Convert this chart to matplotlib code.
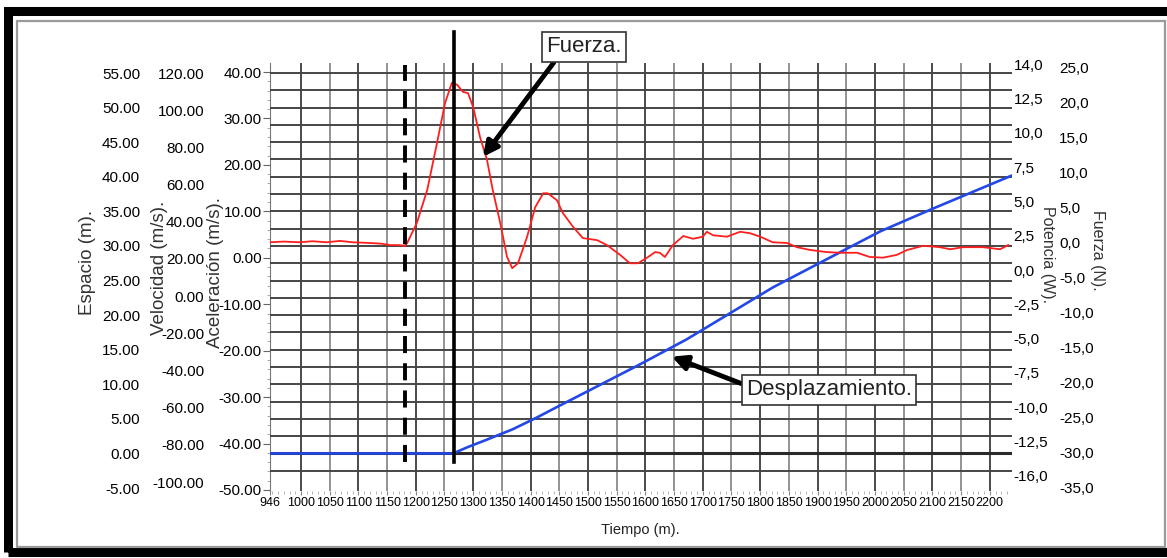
import numpy as np
import matplotlib.pyplot as plt
from matplotlib.patches import Rectangle

plt.rcParams['font.family'] = ['Liberation Sans', 'DejaVu Sans']

W, H = 1167, 558  # tamaño en pixeles

# eje de tiempo
tiempo_ticks = [946, 1000, 1050, 1100, 1150, 1200, 1250, 1300, 1350, 1400, 1450, 1500, 1550,
                1600, 1650, 1700, 1750, 1800, 1850, 1900, 1950, 2000, 2050, 2100, 2150, 2200]

# escalas de los ejes
espacio_ticks = [55, 50, 45, 40, 35, 30, 25, 20, 15, 10, 5, 0, -5]
velocidad_ticks = [120, 100, 80, 60, 40, 20, 0, -20, -40, -60, -80, -100]
acel_ticks = [40, 30, 20, 10, 0, -10, -20, -30, -40, -50]
potencia_ticks = [15, 12.5, 10, 7.5, 5, 2.5, 0, -2.5, -5, -7.5, -10, -12.5, -15]
potencia_labels = ['14,0', '12,5', '10,0', '7,5', '5,0', '2,5', '0,0', '-2,5', '-5,0',
                   '-7,5', '-10,0', '-12,5', '-16,0']
fuerza_ticks = [25, 20, 15, 10, 5, 0, -5, -10, -15, -20, -25, -30, -35]

# fuerza (N) vs tiempo
fuerza_t = [946, 970, 998, 1020, 1045, 1068, 1090, 1120, 1140, 1155,
            1170, 1181, 1185, 1202, 1220, 1237, 1251, 1263, 1272, 1282,
            1291, 1300, 1312, 1324, 1334, 1347, 1359, 1368, 1378, 1394,
            1408, 1422, 1430, 1446, 1456, 1474, 1491, 1516, 1533, 1556,
            1573, 1587, 1603, 1617, 1625, 1634, 1648, 1666, 1683, 1700,
            1707, 1718, 1742, 1765, 1782, 1800, 1822, 1847, 1864, 1887,
            1916, 1939, 1969, 1991, 2014, 2038, 2056, 2084, 2113, 2131,
            2153, 2188, 2218, 2232]
fuerza_n = [0.1, 0.2, 0.1, 0.25, 0.1, 0.3, 0.1, 0.0, -0.1, -0.3,
            -0.3, -0.4, 0.0, 2.9, 7.6, 14.3, 20.0, 22.9, 22.6, 21.6,
            21.4, 19.4, 15.1, 11.9, 7.6, 2.9, -2.0, -3.6, -2.9, 0.9,
            5.1, 7.1, 7.1, 6.1, 4.3, 2.3, 0.7, 0.4, -0.3, -1.7,
            -2.9, -2.9, -2.1, -1.3, -1.4, -2.0, -0.3, 1.0, 0.6, 0.9,
            1.6, 1.1, 0.9, 1.6, 1.4, 0.9, 0.1, 0.0, -0.6, -1.0,
            -1.3, -1.4, -1.4, -2.0, -2.1, -1.7, -1.0, -0.4, -0.6, -0.9,
            -0.6, -0.6, -0.9, -0.3]

# desplazamiento (m) vs tiempo
desp_t = [946, 1180, 1265, 1290, 1324, 1369, 1411, 1448, 1591, 1672, 1822, 1951, 2009, 2101, 2213, 2239]
desp_m = [0, 0, 0, 0.9, 2.0, 3.5, 5.2, 6.8, 12.9, 16.5, 24.0, 29.6, 32.1, 35.4, 39.3, 40.2]

t_inicio = 1181   # linea discontinua
t_impacto = 1267  # linea continua


def fx(px):
    return px / W


def fy(py):
    return 1 - py / H


fig = plt.figure(figsize=(W / 100, H / 100), dpi=100)

# eje principal = aceleracion
ax = fig.add_axes([fx(270), fy(491), 742 / W, 428 / H])
ax.set_xlim(946, 2238.7)
ax.set_ylim(-50.22, 41.94)

ax_vel = ax.twinx()
ax_esp = ax.twinx()
ax_pot = ax.twinx()
ax_fue = ax.twinx()
ax_vel.set_ylim(-104.8, 125.4)
ax_esp.set_ylim(-5.43, 56.45)
ax_pot.set_ylim(-16.11, 15.09)
ax_fue.set_ylim(-35.43, 25.71)

for a in [ax_vel, ax_esp, ax_pot, ax_fue]:
    for s in a.spines.values():
        s.set_visible(False)
for s in ['top', 'right', 'bottom']:
    ax.spines[s].set_visible(False)
ax.spines['left'].set_color('#777777')

# ticks izquierda
ax.set_yticks(acel_ticks, [f'{v:.2f}' for v in acel_ticks])
ax.yaxis.set_minor_locator(plt.MultipleLocator(2))
ax.tick_params(axis='y', which='major', length=5, width=0.8, color='#666666', pad=1, labelsize=11)
ax.tick_params(axis='y', which='minor', length=2.5, width=0.6, color='#999999')

ax_vel.yaxis.tick_left()
ax_vel.spines['left'].set_position(('outward', 47))
ax_vel.set_yticks(velocidad_ticks, [f'{v:.2f}' for v in velocidad_ticks])
ax_vel.tick_params(axis='y', length=0, pad=0.5, labelsize=11)

ax_esp.yaxis.tick_left()
ax_esp.spines['left'].set_position(('outward', 93))
ax_esp.set_yticks(espacio_ticks, [f'{v:.2f}' for v in espacio_ticks])
ax_esp.tick_params(axis='y', length=0, pad=0.5, labelsize=11)

# ticks derecha
ax_pot.set_yticks(potencia_ticks, potencia_labels)
ax_pot.tick_params(axis='y', length=0, pad=1, labelsize=11)
ax_fue.spines['right'].set_position(('outward', 34))
ax_fue.set_yticks(fuerza_ticks, [f'{v:.1f}'.replace('.', ',') for v in fuerza_ticks])
ax_fue.tick_params(axis='y', length=0, pad=0, labelsize=11)

# eje x
ax.set_xticks(tiempo_ticks, [str(t) for t in tiempo_ticks])
ax.xaxis.set_minor_locator(plt.MultipleLocator(10))
ax.tick_params(axis='x', which='major', length=3, color='#888888', pad=1.5, labelsize=9)
ax.tick_params(axis='x', which='minor', length=2, color='#aaaaaa')

# rejilla
for t in tiempo_ticks[1:]:
    c = '#3c3c3c' if t % 100 == 0 else '#8a8a8a'
    ax.axvline(t, color=c, lw=1.3, zorder=0)
for e in np.arange(-2.5, 55.1, 2.5):
    ax_esp.axhline(e, color='#454545', lw=1.4, zorder=0)
ax_esp.axhline(0, color='#2a2a2a', lw=2.2, zorder=1)

# curvas
ax_esp.plot(desp_t, desp_m, color='#2348e6', lw=1.9, zorder=3)
ax_fue.plot(fuerza_t, fuerza_n, color='#ff1e1e', lw=1.3, zorder=3)

# lineas verticales
ax_fue.axvline(t_inicio, ymin=0.068, ymax=0.995, color='k', lw=2.8, dashes=(4.4, 2.6), zorder=4)
ax_fue.axvline(t_impacto, ymin=0.068, ymax=1.072, color='k', lw=2.6, clip_on=False, zorder=4)

# anotaciones
caja = dict(boxstyle='square,pad=0.2', fc='white', ec='#333333', lw=1.2)
flecha = dict(arrowstyle='-|>', lw=3.5, color='k', mutation_scale=22, shrinkA=0, shrinkB=0)
ax_fue.annotate('Fuerza.', xy=(1317, 12.3), xycoords='data',
                xytext=(fx(584), fy(47)), textcoords='figure fraction',
                ha='center', va='center', fontsize=16, color='#222222', bbox=caja,
                arrowprops=dict(flecha, relpos=(0.15, 0)), annotation_clip=False, zorder=6)
ax_esp.annotate('Desplazamiento.', xy=(1646, 14.0), xycoords='data',
                xytext=(fx(829), fy(390)), textcoords='figure fraction',
                ha='center', va='center', fontsize=16, color='#222222', bbox=caja,
                arrowprops=dict(flecha, relpos=(0, 0.72)), zorder=6)

# titulos de ejes
fig.text(fx(87), fy(262), 'Espacio (m).', rotation=90, ha='center', va='center', fontsize=13.5, color='#333333')
fig.text(fx(160), fy(268), 'Velocidad (m/s).', rotation=90, ha='center', va='center', fontsize=13.5, color='#333333')
fig.text(fx(216), fy(273), 'Aceleración (m/s).', rotation=90, ha='center', va='center', fontsize=13.5, color='#333333')
fig.text(fx(1048), fy(255), 'Potencia (W).', rotation=270, ha='center', va='center', fontsize=11.5, color='#333333')
fig.text(fx(1097), fy(250), 'Fuerza (N).', rotation=270, ha='center', va='center', fontsize=11.5, color='#333333')
fig.text(fx(640), fy(530), 'Tiempo (m).', ha='center', va='center', fontsize=10.5, color='#222222')

# marco
fig.add_artist(Rectangle((fx(7.5), fy(552)), (1180 - 7.5) / W, (552 - 11) / H,
                         transform=fig.transFigure, fill=False, ec='k', lw=6.5))
fig.add_artist(Rectangle((fx(16.5), fy(547)), (1165 - 16.5) / W, (547 - 21) / H,
                         transform=fig.transFigure, fill=False, ec='#9a9a9a', lw=1.6))

fig.savefig('out.png', dpi=100)
